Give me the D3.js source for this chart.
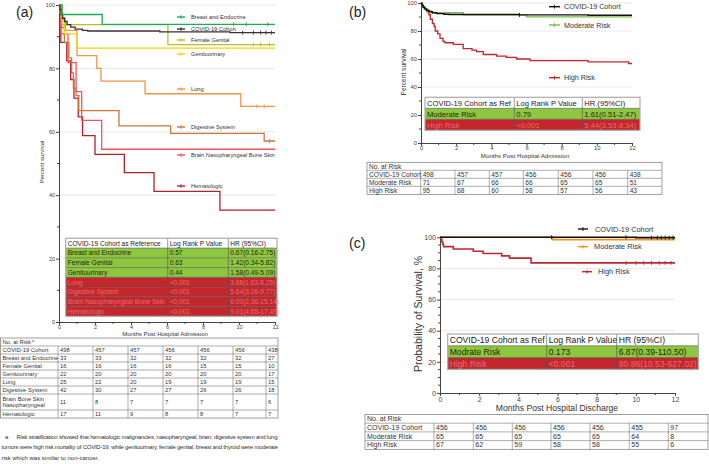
<!DOCTYPE html>
<meta charset="utf-8">
<style>
body{margin:0;background:#fff;}
svg{font-family:"Liberation Sans",Arial,sans-serif;}
</style>
<svg id="fig" width="709" height="464"></svg>
<script src="https://d3js.org/d3.v7.min.js"></script>
<script>

// ---------- panel (a) survival curves : [month, percent] ----------
var aCovid  = [[0,100],[0.05,98.5],[0.12,97],[0.2,95.8],[0.3,94.8],[0.45,93.8],[0.65,93],[0.9,92.4],[1.3,92],[1.6,91.8],[5.6,91.5],[9.5,91.3]];
var aBreast = [[0,100],[0.17,97],[2.4,93.9]];
var aFemale = [[0,100],[0.15,93.8],[6.05,87.5]];
var aGenito = [[0,100],[0.15,95.5],[0.3,90.9],[1.0,86.4]];
var aLung   = [[0,100],[0.1,96],[0.35,92],[1.0,84],[2.1,80],[2.33,76],[4.78,72],[10.1,68]];
var aDigest = [[0,100],[0.05,97.6],[0.15,92.9],[0.3,88.1],[0.55,83.3],[0.7,78.6],[0.8,73.8],[0.95,71.4],[1.1,66.7],[3.33,61.9],[6.2,59.5],[11.4,57.1]];
var aBrain  = [[0,100],[0.1,90.9],[0.5,81.8],[0.95,72.7],[1.26,63.6],[2.37,54.5]];
var aHema   = [[0,100],[0.1,88.2],[0.43,82.4],[0.65,76.5],[0.83,70.6],[1.07,64.7],[1.31,58.8],[2.0,52.9],[3.63,47.1],[5.28,41.2],[8.94,35.3]];

var aNames  = ["Breast and Endocrine","COVID-19 Cohort","Female Genital","Genitourinary","Lung","Digestive System","Brain Nasopharyngeal Bone Skin","Hematologic"];
var aCensor = [[9.7,10.4,11.6],[10.2,10.8,11.2,11.5,11.8],[10.8,11.2,11.7],[],[11.0,11.4],[11.7],[],[]];

// panel (a) log rank table
var aRiskRows = ["Breast and Endocrine","Female Genital","Genitourinary","Lung","Digestive System","Brain Nasopharyngeal Bone Skin","Hematologic"];
var aRiskP    = ["0.57","0.63","0.44","<0.001","<0.001","<0.001","<0.001"];
var aRiskHR   = ["0.67(0.16-2.75)","1.42(0.34-5.82)","1.58(0.49-5.09)","3.68(1.63-8.25)","5.64(3.26-9.77)","6.00(2.36-15.14)","9.01(4.65-17.49)"];
var aRiskHigh = [0,0,0,1,1,1,1];

// panel (a) number at risk
var aAtRiskLabels = ["COVID-19 Cohort","Breast and Endocrine","Female Genital","Genitourinary","Lung","Digestive System","Brain Bone Skin|Nasopharyngeal","Hematologic"];
var aAtRisk = [
  [498,457,457,456,456,456,438],
  [33,33,32,32,32,32,27],
  [16,16,16,16,15,15,10],
  [22,20,20,20,20,20,17],
  [25,22,20,19,19,19,15],
  [42,30,27,27,26,26,18],
  [11,8,7,7,7,7,6],
  [17,11,9,8,8,7,7]
];

// ---------- panel (b) ----------
var bModerate = [[0,100],[0.05,98.6],[0.1,97.2],[0.2,95.8],[0.35,94.4],[0.6,93],[2.4,91.5],[6.0,90.1]];
var bHigh = [[0,100],[0.03,98.9],[0.08,97.9],[0.15,96.8],[0.25,95.8],[0.34,93.7],[0.45,91.6],[0.53,88.4],[0.65,85.3],[0.75,83.2],[0.81,80.0],[0.95,77.9],[1.08,74.7],[1.25,72.6],[1.36,71.6],[1.84,70.5],[2.4,67.4],[2.9,66.3],[3.16,65.3],[3.54,63.2],[4.3,62.1],[4.85,61.1],[5.44,60.0],[6.2,58.9],[9.5,57.9],[11.8,56.8]];
var bNames = ["COVID-19 Cohort","Moderate Risk","High Risk"];
var bRiskRows = ["Moderate Risk","High Risk"];
var bRiskP = ["0.79","<0.001"];
var bRiskHR = ["1.61(0.51-2.47)","5.44(3.53-8.34)"];
var bAtRisk = [[498,457,457,456,456,456,438],[71,67,66,66,65,65,51],[95,68,60,58,57,56,43]];

// ---------- panel (c) ----------
var cCovid = [[0,100],[10.0,99.8]];
var cModerate = [[0,100],[5.75,98.5]];
var cHigh = [[0,100],[0.05,98.5],[0.1,97.0],[0.14,95.5],[0.18,94.0],[0.68,92.5],[1.7,91.0],[2.2,89.6],[3.15,88.1],[3.55,86.6],[4.65,83.6]];
var cCensorCovid = [5.7,9.5,10.8,11.1,11.3,11.5,11.7,11.9];
var cCensorHigh = [9.5,10.0,10.4,10.8,11.2,11.5,11.8];
var cNames = ["COVID-19 Cohort","Moderate Risk","High Risk"];
var cRiskRows = ["Modrate Risk","High Risk"];
var cRiskP = ["0.173","<0.001"];
var cRiskHR = ["6.87(0.39-110.50)","80.86(10.53-627.02)"];
var cAtRisk = [[456,456,456,456,456,455,97],[65,65,65,65,65,64,8],[67,62,59,58,58,55,6]];

var footnote = [
  "Risk stratification showed that hematologic malignancies, nasopharyngeal, brain, digestive system and lung",
  "tumors were high risk mortality of COVID-19, while genitourinary, female genital, breast and thyroid were moderate",
  "risk which was similar to non-cancer."
];

var GREEN = "#8dc63f", RED = "#c1272d";

var svg = d3.select("#fig");

function stepPath(x, y, pts) {
  var d = pts.concat([[12, pts[pts.length-1][1]]]);
  return d3.line().x(function(p){return x(p[0]);}).y(function(p){return y(p[1]);})
    .curve(d3.curveStepAfter)(d);
}

function axes(x, y, fs, minorY, pad) {
  var x0 = x.range()[0], y0 = y.range()[0];
  // grid
  svg.append("g").selectAll("line").data([20,40,60,80,100]).enter().append("line")
    .attr("x1", x0).attr("x2", x.range()[1]).attr("y1", y).attr("y2", y)
    .attr("stroke", "#e4e4e4").attr("stroke-width", 0.8);
  var gy = svg.append("g").attr("transform", "translate(" + x0 + ",0)")
    .call(d3.axisLeft(y).tickValues([0,20,40,60,80,100]).tickSize(3).tickSizeOuter(0).tickPadding(1));
  gy.selectAll(".minor").data(minorY).enter().append("line")
    .attr("x1", -2).attr("x2", 0).attr("y1", y).attr("y2", y).attr("stroke", "#444");
  var gx = svg.append("g").attr("transform", "translate(0," + y0 + ")")
    .call(d3.axisBottom(x).tickValues([0,2,4,6,8,10,12]).tickSize(3).tickSizeOuter(0).tickPadding(pad));
  gx.selectAll(".minor").data([1,3,5,7,9,11]).enter().append("line")
    .attr("x1", x).attr("x2", x).attr("y1", 0).attr("y2", 2).attr("stroke", "#444");
  [gx, gy].forEach(function(g){
    g.attr("font-size", fs).attr("font-family", null);
    g.select(".domain").attr("stroke", "#444");
    g.selectAll(".tick line").attr("stroke", "#444");
    g.selectAll(".tick text").attr("fill", "#444");
  });
}

function curves(x, y, list) {
  list.forEach(function(s){
    svg.append("path").attr("d", stepPath(x, y, s.pts)).attr("fill", "none")
      .attr("stroke", s.color).attr("stroke-width", s.w || 1.4);
    (s.cens || []).forEach(function(m){
      var v = s.pts.filter(function(p){return p[0] <= m;}).pop()[1];
      svg.append("line").attr("x1", x(m)).attr("x2", x(m)).attr("y1", y(v)-2).attr("y2", y(v)+2)
        .attr("stroke", s.color).attr("stroke-width", 0.9);
    });
  });
}

function legend(items, fs) {
  items.forEach(function(it){
    svg.append("line").attr("x1", it.m1).attr("x2", it.m2).attr("y1", it.y).attr("y2", it.y)
      .attr("stroke", it.color).attr("stroke-width", 1.4);
    svg.append("line").attr("x1", (it.m1+it.m2)/2).attr("x2", (it.m1+it.m2)/2).attr("y1", it.y-1.8).attr("y2", it.y+1.8)
      .attr("stroke", it.color).attr("stroke-width", 1);
    svg.append("text").attr("x", it.tx).attr("y", it.y).attr("dy", "0.35em")
      .attr("font-size", fs).attr("fill", "#333").text(it.name);
  });
}

function riskTable(cols, y0, rh, header, names, pv, hr, high, fs) {
  var g = svg.append("g");
  var w = cols[3] - cols[0];
  var rows = [header].concat(names.map(function(n, i){ return [n, pv[i], hr[i]]; }));
  rows.forEach(function(r, i){
    var y = y0 + i*rh;
    var fill = i == 0 ? "#fff" : (high[i-1] ? RED : GREEN);
    g.append("rect").attr("x", cols[0]).attr("y", y).attr("width", w).attr("height", rh).attr("fill", fill);
    r.forEach(function(t, j){
      g.append("text").attr("x", cols[j] + 2).attr("y", y + rh/2).attr("dy", "0.36em")
        .attr("font-size", fs)
        .attr("fill", i == 0 ? "#222" : (high[i-1] ? "#f06a6a" : "#1d2b0c"))
        .text(t);
    });
    if (i > 0) g.append("line").attr("x1", cols[0]).attr("x2", cols[3]).attr("y1", y).attr("y2", y)
      .attr("stroke", "#555").attr("stroke-width", 0.6);
  });
  [cols[1], cols[2]].forEach(function(cx){
    g.append("line").attr("x1", cx).attr("x2", cx).attr("y1", y0).attr("y2", y0 + rows.length*rh)
      .attr("stroke", "#555").attr("stroke-width", 0.6);
  });
  g.append("rect").attr("x", cols[0]).attr("y", y0).attr("width", w).attr("height", rows.length*rh)
    .attr("fill", "none").attr("stroke", "#aaa").attr("stroke-width", 1.2);
}

function atRiskTable(cols, rowsY, labels, values, fs, title, mark) {
  var g = svg.append("g");
  var left = cols[0], right = cols[cols.length-1];
  var top = rowsY[0], bottom = rowsY[rowsY.length-1];
  g.append("rect").attr("x", left).attr("y", top).attr("width", right-left).attr("height", bottom-top)
    .attr("fill", "#fff").attr("stroke", "#777").attr("stroke-width", 0.7);
  rowsY.slice(1, -1).forEach(function(ry){
    g.append("line").attr("x1", left).attr("x2", right).attr("y1", ry).attr("y2", ry)
      .attr("stroke", "#777").attr("stroke-width", 0.6);
  });
  cols.slice(1, -1).forEach(function(cx){
    g.append("line").attr("x1", cx).attr("x2", cx).attr("y1", rowsY[1]).attr("y2", bottom)
      .attr("stroke", "#777").attr("stroke-width", 0.6);
  });
  var t = g.append("text").attr("x", left + 2).attr("y", (rowsY[0]+rowsY[1])/2).attr("dy", "0.36em")
    .attr("font-size", fs).attr("fill", "#333").text(title);
  if (mark) t.append("tspan").attr("dy", "-0.4em").attr("font-size", fs*0.7).text(" a");
  labels.forEach(function(lab, i){
    var cy = (rowsY[i+1] + rowsY[i+2]) / 2;
    var parts = lab.split("|");
    parts.forEach(function(p, k){
      g.append("text").attr("x", left + 2).attr("y", cy + (k - (parts.length-1)/2) * fs * 1.05).attr("dy", "0.36em")
        .attr("font-size", fs).attr("fill", "#333").text(p);
    });
    values[i].forEach(function(v, j){
      g.append("text").attr("x", cols[j+1] + 2).attr("y", cy).attr("dy", "0.36em")
        .attr("font-size", fs).attr("fill", "#333").text(v);
    });
  });
}

function title(txt, x, y, fs, rot) {
  var t = svg.append("text").attr("font-size", fs).attr("fill", "#333").attr("text-anchor", "middle").text(txt);
  if (rot) t.attr("transform", "translate(" + x + "," + y + ") rotate(-90)");
  else t.attr("x", x).attr("y", y);
}

// ================= panel (a) =================
var xA = d3.scaleLinear().domain([0,12]).range([59,275]);
var yA = d3.scaleLinear().domain([0,100]).range([322,5]);
svg.append("text").attr("x", 16).attr("y", 17).attr("font-size", 14).attr("fill", "#222").text("(a)");
axes(xA, yA, 5.5, [10,30,50,70,90], 0);
var aSeries = [aBreast, aCovid, aFemale, aGenito, aLung, aDigest, aBrain, aHema];
var aColors = ["#1daa55","#333333","#b9bf30","#f6d20c","#f49446","#c8773a","#f25560","#b3222a"];
curves(xA, yA, aSeries.map(function(p, i){ return {pts: p, color: aColors[i], cens: aCensor[i], w: 1.3}; }).reverse());
var aLegY = [17,29,40,54,89,127,155,186];
legend(aNames.map(function(n, i){ return {name: n, color: aColors[i], y: aLegY[i], m1: 177, m2: 185, tx: 191}; }), 5.7);
title("Percent survival", 44, 162, 6, true);
title("Months Post Hospital Admission", 165, 335.5, 6, false);
riskTable([65.7,167.7,228.3,277], 238.3, 9.75,
  ["COVID-19 Cohort as Reference","Log Rank P Value","HR (95%CI)"], aRiskRows, aRiskP, aRiskHR, aRiskHigh, 6.6);
atRiskTable([0.5,58,93,128,163,198,233,266,278], [338,346,354,362,370,378,386,394,410,418],
  aAtRiskLabels, aAtRisk, 5.8, "No. at Risk", true);

// footnote
svg.append("text").attr("x", 5).attr("y", 439).attr("font-size", 6).attr("fill", "#333").text("a");
footnote.forEach(function(line, i){
  var t = svg.append("text").attr("x", i == 0 ? 16.5 : 1.5).attr("y", 439 + i*10.3)
    .attr("font-size", 6).attr("fill", "#333").text(line);
  if (i < 2) t.attr("textLength", i == 0 ? 261 : 276.5).attr("lengthAdjust", "spacing");
});

// ================= panel (b) =================
var xB = d3.scaleLinear().domain([0,12]).range([421,632]);
var yB = d3.scaleLinear().domain([0,100]).range([143,3]);
svg.append("text").attr("x", 349).attr("y", 17).attr("font-size", 14).attr("fill", "#222").text("(b)");
axes(xB, yB, 5.8, [10,30,50,70,90], 0);
var bColors = ["#111111","#7cb94a","#c0272d"];
curves(xB, yB, [
  {pts: bHigh, color: bColors[2], w: 1.3},
  {pts: bModerate, color: bColors[1], w: 1.4},
  {pts: aCovid, color: bColors[0], w: 1.4, cens: [5.6]}
]);
legend([
  {name: bNames[0], color: bColors[0], y: 6.7, m1: 549, m2: 560, tx: 564},
  {name: bNames[1], color: bColors[1], y: 25, m1: 549, m2: 560, tx: 564},
  {name: bNames[2], color: bColors[2], y: 77.7, m1: 549, m2: 560, tx: 564}
], 7.2);
title("Percent survival", 406, 72, 6.6, true);
title("Months Post Hospital Admission", 525, 158.3, 6.2, false);
riskTable([425,514.3,582.3,640], 97.3, 11,
  ["COVID-19 Cohort as Ref","Log Rank P Value","HR (95%CI)"], bRiskRows, bRiskP, bRiskHR, [0,1], 7.6);
atRiskTable([367,420.7,455,489.3,523.3,558.3,593,627.7,662], [162.3,170.3,178.3,186.3,194.3],
  bNames, bAtRisk, 6.6, "No. at Risk");

// ================= panel (c) =================
var xC = d3.scaleLinear().domain([0,12]).range([440,675]);
var yC = d3.scaleLinear().domain([0,100]).range([393,237.3]);
svg.append("text").attr("x", 349).attr("y", 248).attr("font-size", 14).attr("fill", "#222").text("(c)");
axes(xC, yC, 7, [5,10,15,25,30,35,45,50,55,65,70,75,85,90,95], 1);
var cColors = ["#111111","#f7941d","#c0272d"];
curves(xC, yC, [
  {pts: cHigh, color: cColors[2], w: 1.6, cens: cCensorHigh},
  {pts: cModerate, color: cColors[1], w: 1.6},
  {pts: cCovid, color: cColors[0], w: 1.6, cens: cCensorCovid}
]);
legend([
  {name: cNames[0], color: cColors[0], y: 229, m1: 578, m2: 588, tx: 595},
  {name: cNames[1], color: cColors[1], y: 246.7, m1: 578, m2: 588, tx: 594},
  {name: cNames[2], color: cColors[2], y: 271.7, m1: 582, m2: 592, tx: 598}
], 7.4);
title("Probability of Survival, %", 422, 314, 10.5, true);
title("Months  Post  Hospital Discharge", 557, 411, 8.6, false);
riskTable([447.7,546.7,616.7,698.3], 334, 11.8,
  ["COVID-19 Cohort as Ref","Log Rank P Value","HR (95%CI)"], cRiskRows, cRiskP, cRiskHR, [0,1], 8.6);
atRiskTable([365,434,473.3,512.3,551,590,629.3,668.3,708], [414.5,423.2,431.9,440.6,449.3],
  cNames, cAtRisk, 7, "No. at Risk");

</script>
